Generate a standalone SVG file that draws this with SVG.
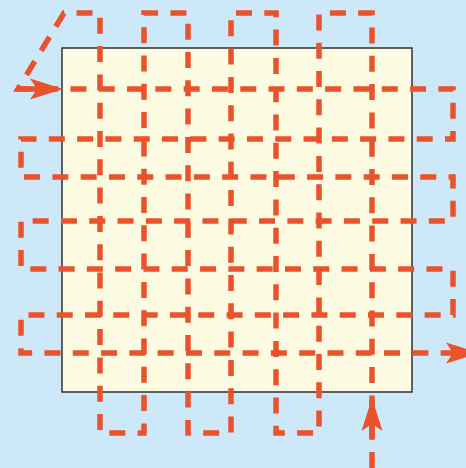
<svg xmlns="http://www.w3.org/2000/svg" width="466" height="468" viewBox="0 0 466 468">
<style>
.bg{fill:#cde8f8}
.board{fill:#fefbe3;stroke:#3b3b3b;stroke-width:1.6}
.route{fill:none;stroke:#e9522b;stroke-width:5.5;stroke-dasharray:16 12.3;stroke-linejoin:miter}
.shaft{fill:none;stroke:#e9522b;stroke-width:5.5}
.head{fill:#e9522b}
</style>
<defs>
<path id="ah" d="M0,0 L-33,-10.5 L-26,0 L-33,10.5 Z"/>
</defs>
<rect class="bg" x="0" y="0" width="466" height="468"/>
<g id="board">
<rect class="board" x="62" y="48" width="350" height="344"/>
</g>
<g id="connectors">
<path id="route" class="route" d="M372,468 V13 H319 V433 H276 V13 H231 V433 H188 V13 H144 V433 H100 V13 H64 L18,89 H453 V139 H21 V177 H453 V221 H21 V269 H453 V315 H21 V353 H466"/>
<g id="start-arrow-left">
<path class="shaft" d="M17,89 H56"/>
<use href="#ah" class="head" transform="translate(63,89)"/>
</g>
<g id="start-arrow-bottom">
<path class="shaft" d="M372,438 V400"/>
<use href="#ah" class="head" transform="translate(372,398) rotate(-90)"/>
</g>
<g id="end-arrow">
<use href="#ah" class="head" transform="translate(479,353)"/>
</g>
</g>
</svg>
